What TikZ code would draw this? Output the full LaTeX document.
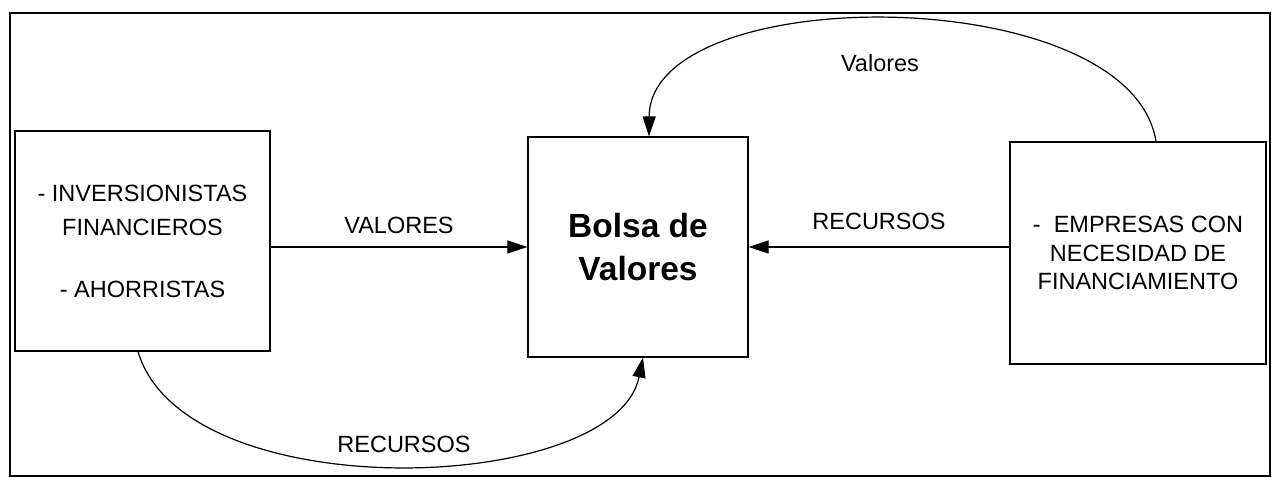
\documentclass[tikz,border=0pt]{standalone}
\usepackage{fontspec}
\setmainfont{Liberation Sans}
\usetikzlibrary{arrows.meta}

\begin{document}
\begin{tikzpicture}[x=0.5pt, y=-0.5pt, line width=0.6pt,
        caja/.style = {draw, inner sep=0pt, align=center, font=\fontsize{11.75}{14.25}\selectfont},
        flecha/.style = {-{Triangle[length=10pt, width=6.5pt]}},
        etiqueta/.style = {inner sep=0pt, font=\fontsize{11.75}{14.25}\selectfont}]
        \useasboundingbox (0,0) rectangle (1274,480);
        \draw (10,13) rectangle (1270,476);
        \draw (142.5,241) node[caja, minimum width=127.5pt, minimum height=110pt] (inv) {- INVERSIONISTAS\\[2.75pt] FINANCIEROS\\[16.75pt] - AHORRISTAS};
        \draw (638,247) node[caja, minimum width=110pt, minimum height=110pt, font=\fontsize{16.75}{21.5}\selectfont\bfseries] (bolsa) {Bolsa de\\ Valores};
        \draw (1138,253) node[caja, minimum width=128pt, minimum height=111pt] (emp) {-~ EMPRESAS CON\\ NECESIDAD DE\\ FINANCIAMIENTO};
        \draw[flecha] (inv.east |- bolsa.west) -- node[etiqueta, above=6.5pt] (lval) {VALORES} (bolsa.west);
        \draw[flecha] (emp.west |- bolsa.east) -- node[etiqueta, above=8.5pt] (lrec) {RECURSOS} (bolsa.east);
        \draw[flecha] ([xshift=9pt]emp.north) .. controls (1130,-20) and (650,-20) .. ([xshift=5.5pt]bolsa.north);
        \draw (880,63.5) node[etiqueta] (lvalores) {Valores};
        \draw[flecha] ([xshift=-2.25pt]inv.south) .. controls (185,510) and (615,495) .. ([xshift=2.5pt]bolsa.south);
        \draw (404,444.5) node[etiqueta] (lrecursos) {RECURSOS};
    \end{tikzpicture}
\end{document}
